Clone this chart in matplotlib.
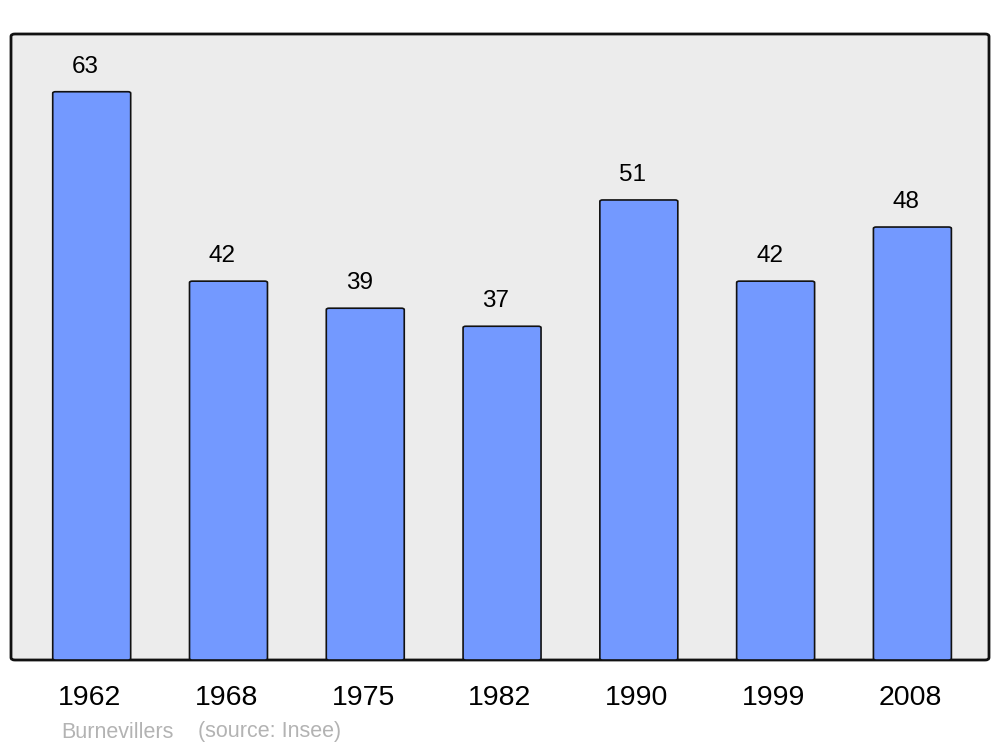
import matplotlib.pyplot as plt
from matplotlib.patches import FancyBboxPatch

years = ["1962", "1968", "1975", "1982", "1990", "1999", "2008"]
population = [63, 42, 39, 37, 51, 42, 48]
commune = "Burnevillers"
source = "(source: Insee)"

plt.rcParams['font.family'] = ['Liberation Sans', 'DejaVu Sans']

fig = plt.figure(figsize=(10, 7.47), dpi=100)
ax = fig.add_axes([0.011, 1 - 660 / 747, 0.978, 626 / 747])
ax.set_facecolor('none')

# rounded grey frame behind the plot area
frame = FancyBboxPatch((0, 0), 1, 1, boxstyle="round,pad=0,rounding_size=0.004",
                       transform=ax.transAxes, facecolor='#ececec',
                       edgecolor='#111111', linewidth=2, zorder=0, clip_on=False)
ax.add_patch(frame)

x = list(range(len(years)))
for xi, v, yr in zip(x, population, years):
    bar = FancyBboxPatch((xi - 0.285, 0), 0.57, v,
                         boxstyle="round,pad=0,rounding_size=0.02",
                         mutation_aspect=8,
                         facecolor='#7399ff', edgecolor='#111111',
                         linewidth=1.2, zorder=2)
    ax.add_patch(bar)
    ax.text(xi - 0.044, v + 2.75, str(v), ha='center', va='center',
            fontsize=17.5, color='black')
    ax.text(xi - 0.015, -38 / 626, yr, ha='center', va='center',
            fontsize=20.5, color='black',
            transform=ax.get_xaxis_transform())

ax.set_xlim(-0.59, 6.56)
ax.set_ylim(0, 69.4)
ax.set_xticks([])
ax.set_yticks([])
for s in ax.spines.values():
    s.set_visible(False)

fig.text(0.061, 1 - 732 / 747, commune, fontsize=15.5, color='#b3b3b3',
         ha='left', va='center')
fig.text(0.198, 1 - 732 / 747, source, fontsize=15.5, color='#b3b3b3',
         ha='left', va='center')

fig.savefig("out.png", dpi=100)
